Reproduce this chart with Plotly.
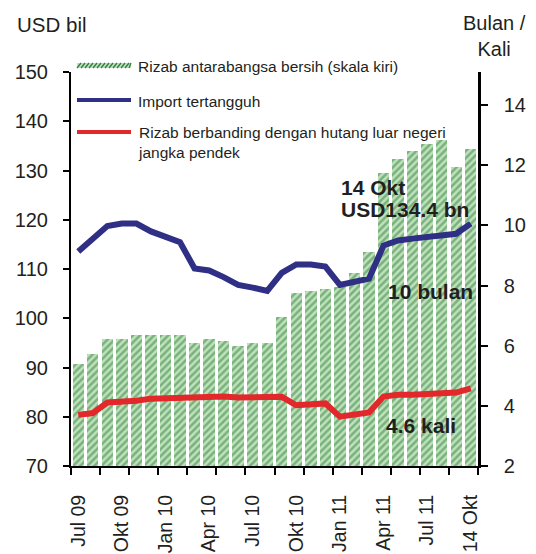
import plotly.graph_objects as go

# ---------------- data ----------------
periods = ["Jul 09", "Ogo 09", "Sep 09", "Okt 09", "Nov 09", "Dis 09",
           "Jan 10", "Feb 10", "Mac 10", "Apr 10", "Mei 10", "Jun 10",
           "Jul 10", "Ogo 10", "Sep 10", "Okt 10", "Nov 10", "Dis 10",
           "Jan 11", "Feb 11", "Mac 11", "Apr 11", "Mei 11", "Jun 11",
           "Jul 11", "Ogo 11", "Sep 11", "14 Okt"]
reserves = [90.7, 92.7, 95.7, 95.7, 96.5, 96.5, 96.5, 96.5, 94.9, 95.7,
            95.3, 94.4, 94.9, 94.9, 100.2, 105.1, 105.6, 106.0, 106.4, 109.2,
            113.4, 129.5, 132.3, 134.0, 135.3, 136.1, 130.8, 134.4]
import_cover = [9.13, 9.57, 9.98, 10.06, 10.06, 9.80, 9.60, 9.44, 8.57, 8.50,
                8.28, 8.02, 7.93, 7.82, 8.42, 8.70, 8.70, 8.63, 8.02, 8.14,
                8.23, 9.33, 9.50, 9.56, 9.62, 9.67, 9.72, 10.06]
ratio_std = [3.70, 3.76, 4.11, 4.13, 4.17, 4.24, 4.25, 4.27, 4.30, 4.31,
             4.31, 4.28, 4.30, 4.30, 4.30, 4.02, 4.06, 4.08, 3.64, 3.72,
             3.78, 4.31, 4.37, 4.37, 4.39, 4.42, 4.44, 4.58]
tick_labels = ["Jul 09", "Okt 09", "Jan 10", "Apr 10", "Jul 10", "Okt 10",
               "Jan 11", "Apr 11", "Jul 11", "14 Okt"]
left_ticks = [70, 80, 90, 100, 110, 120, 130, 140, 150]
right_ticks = [2, 4, 6, 8, 10, 12, 14]
legend_names = ["Rizab antarabangsa bersih (skala kiri)", "Import tertangguh",
                "Rizab berbanding dengan hutang luar negeri<br>jangka pendek"]

# ---------------- style ----------------
W, H = 536, 554
L, R, T, B = 71, 478, 72, 466
FONT = "Liberation Sans, Arial, sans-serif"
TXT = "#231f20"
GREEN_BG = "#c0e2b9"
GREEN_FG = "#2f7f45"
BLUE = "#2e2f85"
RED = "#e2282a"

xs = list(range(len(periods)))
label_pos = [xs[i] for i in range(0, len(periods), 3)]
bound_pos = [x - 0.5 for x in xs[::2]] + [xs[-1] + 0.5]


def px(xp, yp):
    return (xp - L) / (R - L), (B - yp) / (B - T)


fig = go.Figure()
fig.add_trace(go.Bar(
    x=xs, y=reserves, width=0.78, name=legend_names[0], showlegend=False,
    marker=dict(color=GREEN_BG, line=dict(width=0),
                pattern=dict(shape="/", fgcolor=GREEN_FG, bgcolor=GREEN_BG,
                             size=5, solidity=0.5)),
    yaxis="y", xaxis="x"))
fig.add_trace(go.Scatter(
    x=xs, y=import_cover, mode="lines", name=legend_names[1], showlegend=False,
    line=dict(color=BLUE, width=6), yaxis="y2", xaxis="x"))
fig.add_trace(go.Scatter(
    x=xs, y=ratio_std, mode="lines", name=legend_names[2], showlegend=False,
    line=dict(color=RED, width=6), yaxis="y2", xaxis="x"))
# helper trace so the boundary-tick axis is drawn
fig.add_trace(go.Scatter(x=[xs[0]], y=[left_ticks[0]], mode="markers",
                         marker=dict(opacity=0), showlegend=False,
                         hoverinfo="skip", xaxis="x2", yaxis="y"))

shapes = []
annotations = []

# legend swatches
x0, y0 = px(77, 63)
x1, y1 = px(131, 68)
shapes.append(dict(type="rect", xref="paper", yref="paper", x0=x0, x1=x1,
                   y0=y1, y1=y0, fillcolor=GREEN_BG, line=dict(width=0),
                   layer="above"))
path = ""
sx = 77
while sx < 131:
    a = px(sx, 68)
    b = px(min(sx + 4, 131), 63)
    path += f"M{a[0]},{a[1]} L{b[0]},{b[1]} "
    sx += 4
shapes.append(dict(type="path", xref="paper", yref="paper", path=path,
                   line=dict(color=GREEN_FG, width=1.3), layer="above"))
for yy, col in [(100, BLUE), (132, RED)]:
    a = px(77, yy)
    b = px(131, yy)
    shapes.append(dict(type="line", xref="paper", yref="paper", x0=a[0], x1=b[0],
                       y0=a[1], y1=b[1], line=dict(color=col, width=4),
                       layer="above"))

for name, yy in [(legend_names[0], 66), (legend_names[1], 101), (legend_names[2], 142)]:
    a = px(136, yy)
    annotations.append(dict(text=name, xref="paper", yref="paper", x=a[0], y=a[1],
                            xanchor="left", yanchor="middle", showarrow=False,
                            align="left", font=dict(family=FONT, size=15.5, color=TXT)))

# axis titles
a = px(15, 24)
annotations.append(dict(text="USD bil", xref="paper", yref="paper", x=a[0], y=a[1],
                        xanchor="left", yanchor="middle", showarrow=False,
                        font=dict(family=FONT, size=20.5, color=TXT)))
a = px(494, 36)
annotations.append(dict(text="Bulan /<br>Kali", xref="paper", yref="paper", x=a[0], y=a[1],
                        xanchor="center", yanchor="middle", showarrow=False,
                        font=dict(family=FONT, size=20, color=TXT)))

# data call-outs
for text, xx, yy in [("14 Okt", 339, 187), ("USD134.4 bn", 339, 209),
                     ("10 bulan", 386, 291), ("4.6 kali", 384, 425)]:
    a = px(xx, yy)
    annotations.append(dict(text=f"<b>{text}</b>", xref="paper", yref="paper",
                            x=a[0], y=a[1], xanchor="left", yanchor="middle",
                            showarrow=False,
                            font=dict(family=FONT, size=21, color=TXT)))

fig.update_layout(
    width=W, height=H,
    margin=dict(l=L, r=W - R, t=T, b=H - B, pad=0, autoexpand=False),
    paper_bgcolor="white", plot_bgcolor="white",
    showlegend=False, bargap=0,
    font=dict(family=FONT, color=TXT),
    xaxis=dict(range=[-0.5, len(periods) - 0.5], tickmode="array",
               tickvals=label_pos, ticktext=tick_labels, tickangle=-90,
               ticks="outside", ticklen=19, tickcolor="rgba(0,0,0,0)",
               tickfont=dict(family=FONT, size=19.5, color=TXT),
               showline=True, linecolor="black", linewidth=2,
               showgrid=False, zeroline=False, automargin=False),
    xaxis2=dict(range=[-0.5, len(periods) - 0.5], overlaying="x", anchor="y",
                side="bottom", tickmode="array", tickvals=bound_pos,
                ticks="outside", ticklen=8, tickwidth=2, tickcolor="black",
                showticklabels=False, showline=False, showgrid=False,
                zeroline=False, automargin=False),
    yaxis=dict(range=[70, 150], tickmode="array", tickvals=left_ticks,
               ticks="outside", ticklen=6, tickwidth=2, tickcolor="black",
               ticklabelstandoff=11,
               tickfont=dict(family=FONT, size=20, color=TXT),
               showline=True, linecolor="black", linewidth=2,
               showgrid=False, zeroline=False, automargin=False),
    yaxis2=dict(range=[2, 15.1], overlaying="y", side="right", anchor="x",
                tickmode="array", tickvals=right_ticks,
                ticks="outside", ticklen=7, tickwidth=2, tickcolor="black",
                ticklabelstandoff=12,
                tickfont=dict(family=FONT, size=20, color=TXT),
                showline=True, linecolor="black", linewidth=2.5,
                showgrid=False, zeroline=False, automargin=False),
    shapes=shapes, annotations=annotations,
)

fig.write_html("out.html", config={"displayModeBar": False},
               post_script="document.body.style.margin='0px';")
